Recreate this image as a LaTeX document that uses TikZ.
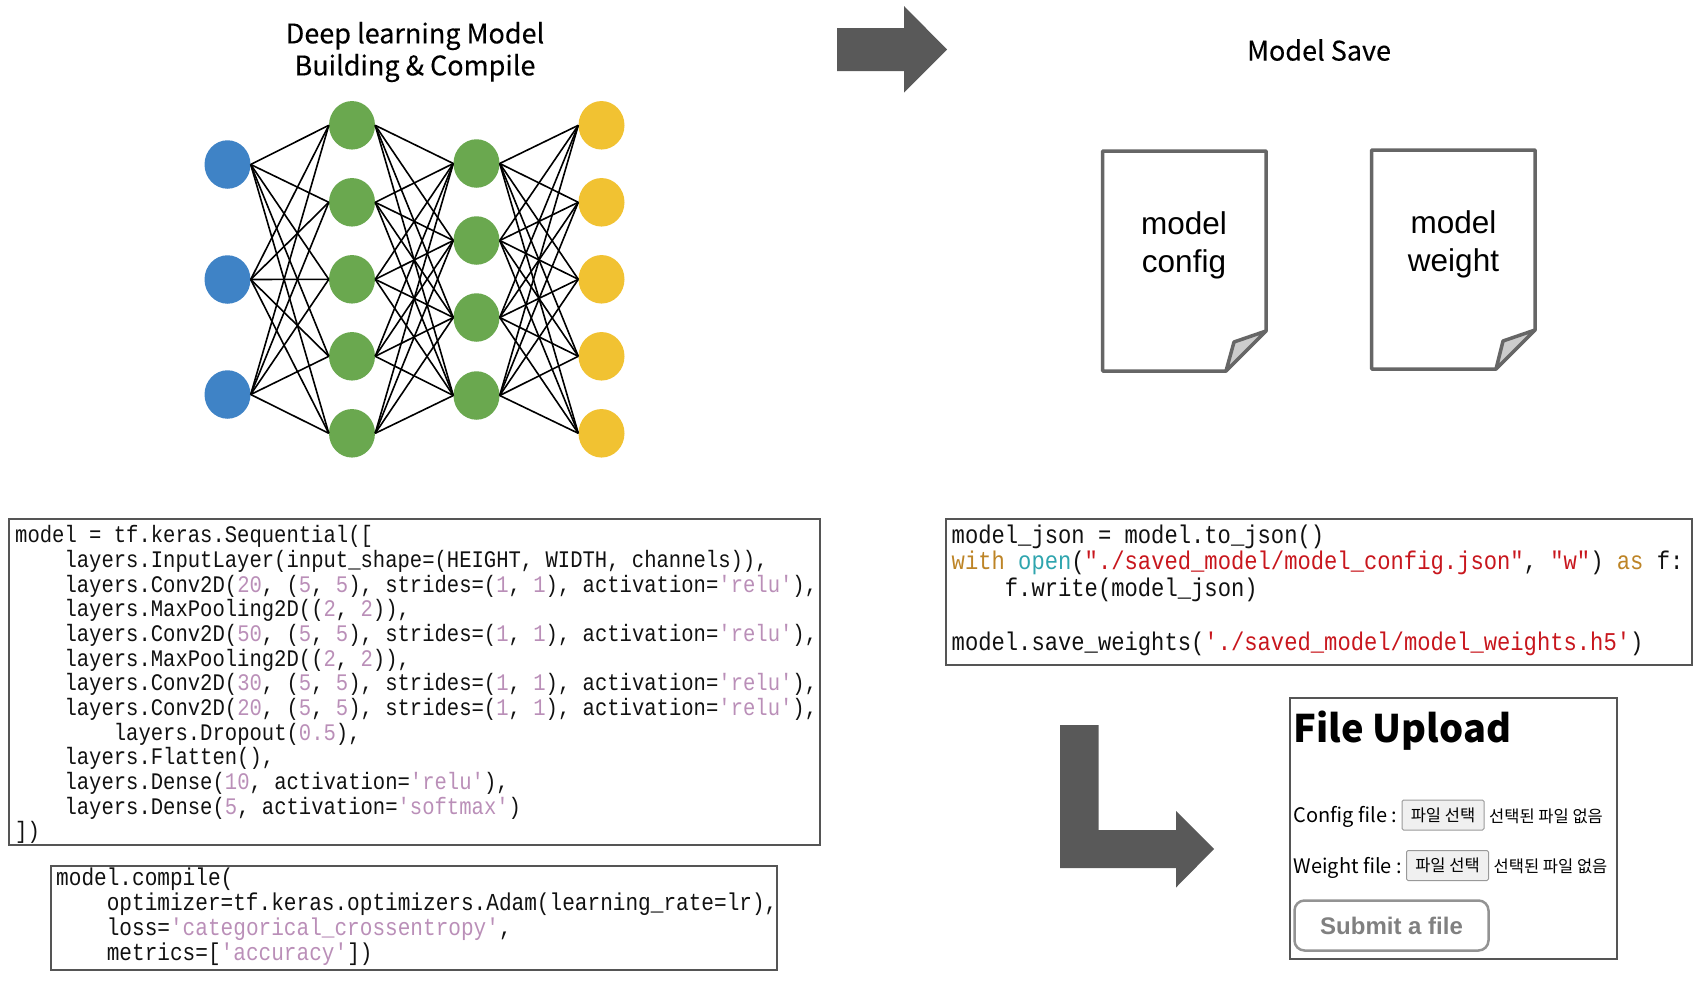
\documentclass[tikz,border=0pt]{standalone}
\usepackage{fontspec}
\usetikzlibrary{calc,shapes.geometric}
\setmainfont{Liberation Sans}
\newfontfamily\codefam[FakeStretch=0.866]{Liberation Mono}
\newfontfamily\krfam{Noto Sans CJK KR}
\newfontfamily\titlefam[FakeBold=0.25]{Noto Sans CJK KR}
\definecolor{nnblue}{HTML}{3F83C6}
\definecolor{nngreen}{HTML}{6AA84F}
\definecolor{nngold}{HTML}{F1C232}
\definecolor{framegray}{HTML}{555555}
\definecolor{arrowgray}{HTML}{595959}
\definecolor{docgray}{HTML}{666666}
\definecolor{foldgray}{HTML}{CCCCCC}
\definecolor{codepink}{HTML}{BA8FB8}
\definecolor{codered}{HTML}{C8161D}
\definecolor{codeochre}{HTML}{BD8426}
\definecolor{codeteal}{HTML}{2FA5AE}
\definecolor{codeink}{HTML}{111111}
\newcommand\pk[1]{\textcolor{codepink}{#1}}
\newcommand\rd[1]{\textcolor{codered}{#1}}
\newcommand\ind{\phantom{xxxx}}
\tikzset{
  x=1pt,y=-1pt,
  neuron/.style={ellipse,minimum width=46pt,minimum height=48.5pt,inner sep=0pt,draw=none},
  synapse/.style={draw=black,line width=1.6pt},
  codebox/.style={draw=framegray,line width=2pt,fill=none},
  codetext/.style={anchor=north west,inner sep=0pt,align=left,text=codeink},
  titletext/.style={align=center,font=\titlefam\fontsize{27}{32}\selectfont,text=black},
  doctext/.style={align=center,font=\fontsize{31.5}{38}\selectfont,text=black},
  docframe/.style={draw=docgray,line width=3.5pt,fill=white,line join=round},
  foldshape/.style={draw=docgray,line width=3.5pt,fill=foldgray,line join=round},
  bigarrow/.style={fill=arrowgray,draw=none},
  filebtn/.style={draw=gray!80,line width=1pt,fill=black!6,rounded corners=1.5pt,font=\krfam\fontsize{16.5}{18}\selectfont,inner sep=0pt},
  uploadtxt/.style={font=\krfam\fontsize{20}{24}\selectfont,anchor=west,inner sep=0pt},
  nofile/.style={font=\krfam\fontsize{16.5}{18}\selectfont,anchor=west,inner sep=0pt},
}
\begin{document}
\begin{tikzpicture}
\useasboundingbox (0,0) rectangle (1698,983);
% neurons
\foreach \n/\y in {1/164.5,2/279.5,3/394.5}{\node[neuron,fill=nnblue] (a\n) at (227.5,\y) {};}
\foreach \n/\y in {1/125.3,2/202.3,3/279.3,4/356.3,5/433.3}{\node[neuron,fill=nngreen] (b\n) at (352,\y) {};}
\foreach \n/\y in {1/163.5,2/240.5,3/317.5,4/395.5}{\node[neuron,fill=nngreen] (c\n) at (476.5,\y) {};}
\foreach \n/\y in {1/125.3,2/202.3,3/279.3,4/356.3,5/433.3}{\node[neuron,fill=nngold] (d\n) at (601.5,\y) {};}
\foreach \i in {1,2,3}\foreach \j in {1,...,5}{\draw[synapse] (a\i.east) -- (b\j.west);}
\foreach \i in {1,...,5}\foreach \j in {1,...,4}{\draw[synapse] (b\i.east) -- (c\j.west);}
\foreach \i in {1,...,4}\foreach \j in {1,...,5}{\draw[synapse] (c\i.east) -- (d\j.west);}
% titles
\node[titletext] (t1) at (415,52) {Deep learning Model\\Building \& Compile};
\node[titletext] (t2) at (1319,50) {Model Save};
% top arrow
\path[bigarrow] (837,28) -- (904,28) -- (904,6) -- (947,49.5) -- (904,92.5) -- (904,71) -- (837,71) -- cycle;
% documents
\draw[docframe] (1102.5,151) -- (1266,151) -- (1266,331) -- (1226,371) -- (1102.5,371) -- cycle;
\draw[foldshape] (1266,331) -- (1234,342) -- (1226,371) -- cycle;
\node[doctext] (doc1) at (1184,245.5) {model\\config};
\draw[docframe] (1371.5,150) -- (1535,150) -- (1535,330) -- (1496,369) -- (1371.5,369) -- cycle;
\draw[foldshape] (1535,330) -- (1503,341) -- (1496,369) -- cycle;
\node[doctext] (doc2) at (1453.5,244) {model\\weight};
% code boxes
\draw[codebox] (9,519) rectangle (820,845);
\node[codetext,font=\codefam\fontsize{23.74}{24.67}\selectfont] (codeA) at (15,525.5) {%
model = tf.keras.Sequential([\\
\ind layers.InputLayer(input\_shape=(HEIGHT, WIDTH, channels)),\\
\ind layers.Conv2D(\pk{20}, (\pk{5}, \pk{5}), strides=(\pk{1}, \pk{1}), activation=\pk{'relu'}),\\
\ind layers.MaxPooling2D((\pk{2}, \pk{2})),\\
\ind layers.Conv2D(\pk{50}, (\pk{5}, \pk{5}), strides=(\pk{1}, \pk{1}), activation=\pk{'relu'}),\\
\ind layers.MaxPooling2D((\pk{2}, \pk{2})),\\
\ind layers.Conv2D(\pk{30}, (\pk{5}, \pk{5}), strides=(\pk{1}, \pk{1}), activation=\pk{'relu'}),\\
\ind layers.Conv2D(\pk{20}, (\pk{5}, \pk{5}), strides=(\pk{1}, \pk{1}), activation=\pk{'relu'}),\\
\ind\ind layers.Dropout(\pk{0.5}),\\
\ind layers.Flatten(),\\
\ind layers.Dense(\pk{10}, activation=\pk{'relu'}),\\
\ind layers.Dense(\pk{5}, activation=\pk{'softmax'})\\
])};
\draw[codebox] (51,866) rectangle (777,970);
\node[codetext,font=\codefam\fontsize{24.35}{25}\selectfont] (codeB) at (56,868) {%
model.compile(\\
\ind optimizer=tf.keras.optimizers.Adam(learning\_rate=lr),\\
\ind loss=\pk{'categorical\_crossentropy'},\\
\ind metrics=[\pk{'accuracy'}])};
\draw[codebox] (946,519) rectangle (1692,664.5);
\node[codetext,font=\codefam\fontsize{25.6}{26.7}\selectfont] (codeC) at (951.5,524.5) {%
model\_json = model.to\_json()\\
\textcolor{codeochre}{with} \textcolor{codeteal}{open}(\rd{"./saved\_model/model\_config.json"}, \rd{"w"}) \textcolor{codeochre}{as} f:\\
\ind f.write(model\_json)\\
\strut\\
model.save\_weights(\rd{'./saved\_model/model\_weights.h5'})};
% L arrow
\path[bigarrow] (1060,725) -- (1098.5,725) -- (1098.5,830) -- (1176,830) -- (1176,811) -- (1214,849) -- (1176,887.5) -- (1176,868) -- (1060,868) -- cycle;
% upload
\draw[codebox] (1290,698) rectangle (1617,959);
\node[font=\krfam\bfseries\fontsize{38}{44}\selectfont,anchor=west,inner sep=0pt] (ftitle) at (1293.5,730.5) {File Upload};
\node[uploadtxt] (cfg) at (1293.5,816.5) {Config file :};
\node[filebtn,minimum width=82pt,minimum height=30pt] (btn1) at (1443,815) {파일 선택};
\node[nofile] (no1) at (1489,816) {선택된 파일 없음};
\node[uploadtxt] (wgt) at (1293.5,867.5) {Weight file :};
\node[filebtn,minimum width=82pt,minimum height=30pt] (btn2) at (1447.5,865.5) {파일 선택};
\node[nofile] (no2) at (1493.5,866.5) {선택된 파일 없음};
\node[draw=gray!85,line width=2.5pt,rounded corners=10pt,minimum width=194pt,minimum height=50pt,inner sep=0pt,font=\bfseries\fontsize{24}{28}\selectfont,text=gray] (submit) at (1391.5,925.5) {Submit a file};
\end{tikzpicture}
\end{document}
